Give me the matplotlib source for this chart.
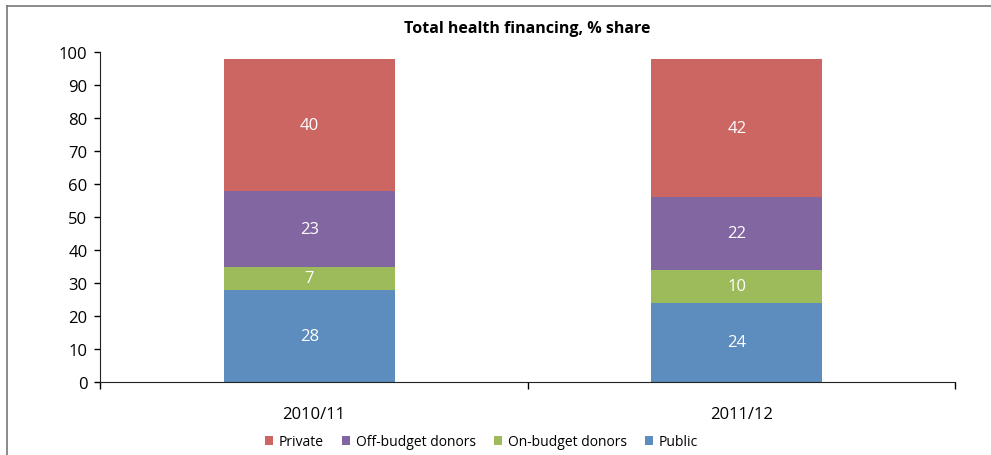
import numpy as np
import matplotlib.pyplot as plt
from matplotlib.lines import Line2D

plt.rcParams['font.family'] = ['Open Sans', 'DejaVu Sans']

years = ["2010/11", "2011/12"]
public = [28, 24]
on_budget = [7, 10]
off_budget = [23, 22]
private = [40, 42]

series = [
    ("Public", public, "#5D8DBE"),
    ("On-budget donors", on_budget, "#9DBB5A"),
    ("Off-budget donors", off_budget, "#8166A2"),
    ("Private", private, "#CC6663"),
]

fig = plt.figure(figsize=(9.91, 4.56), dpi=100)
ax = fig.add_axes([100 / 991, 1 - 383 / 456, 855 / 991, 330 / 456])

x = np.arange(len(years))
bottom = np.zeros(len(years))
handles = {}
for name, vals, color in series:
    vals = np.array(vals, dtype=float)
    bars = ax.bar(x - 0.01, vals, width=0.40, bottom=bottom, color=color, zorder=2)
    handles[name] = bars
    for xi, b, v in zip(x, bottom, vals):
        ax.text(xi - 0.01, b + v / 2, f"{v:.0f}", ha="center", va="center",
                color="white", fontsize=12)
    bottom += vals

ax.set_xlim(-0.5, 1.5)
ax.set_ylim(0, 100)
ax.set_yticks(range(0, 101, 10))
ax.set_xticks([-0.5, 0.5, 1.5])
ax.set_xticklabels([])
ax.set_xticks(x, minor=True)
ax.set_xticklabels(years, minor=True)
ax.tick_params(axis="x", which="minor", length=0, pad=17, labelsize=12)
ax.tick_params(axis="x", which="major", length=5, width=1, direction="out")
ax.tick_params(axis="y", length=4, width=1, direction="out", labelsize=12, pad=5)

for side in ("top", "right"):
    ax.spines[side].set_visible(False)
ax.spines["left"].set_color("#222222")
ax.spines["bottom"].set_color("#222222")

ax.set_title("Total health financing, % share", fontsize=11.5, fontweight="bold",
             pad=0, y=1 + 20 / 330)

order = ["Private", "Off-budget donors", "On-budget donors", "Public"]
leg = fig.legend([handles[n] for n in order], order, loc="center",
                 bbox_to_anchor=(0.486, 1 - 443 / 456), ncol=4, frameon=False,
                 fontsize=10, handlelength=0.6, handleheight=0.6,
                 handletextpad=0.4, columnspacing=1.3)

# outer frame lines
fig.add_artist(Line2D([7 / 991, 1.0], [1 - 7 / 456, 1 - 7 / 456],
                      transform=fig.transFigure, color="#777777", lw=1.2))
fig.add_artist(Line2D([7 / 991, 7 / 991], [0, 1 - 7 / 456],
                      transform=fig.transFigure, color="#777777", lw=1.2))

fig.savefig("out.png", dpi=100)
